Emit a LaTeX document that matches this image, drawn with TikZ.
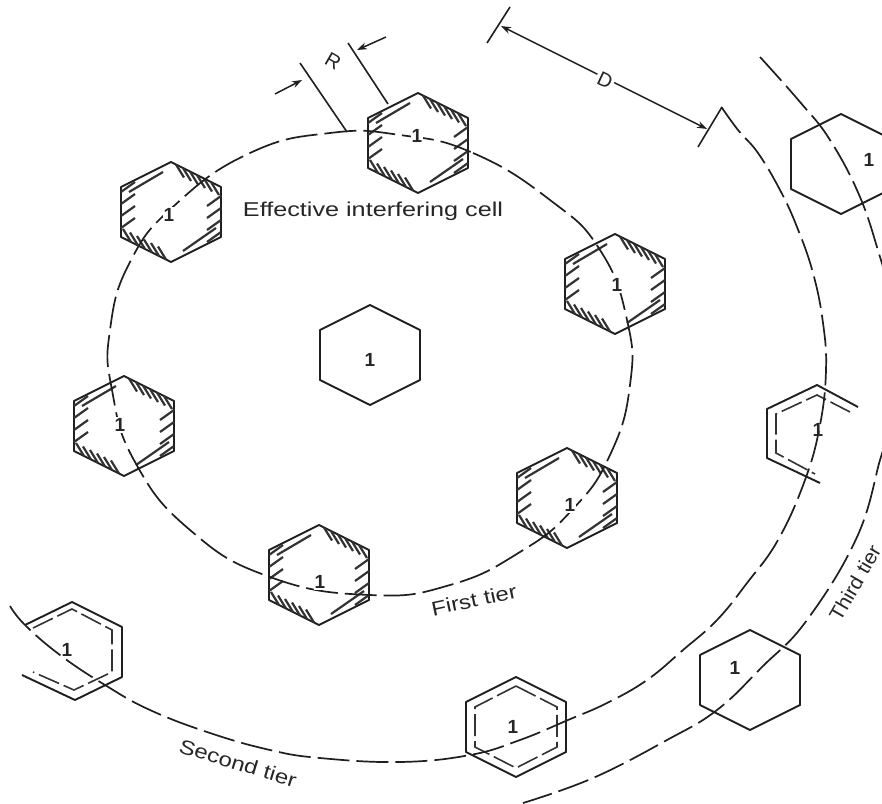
\documentclass[tikz,border=0pt]{standalone}
\usepackage{fontspec}
\setmainfont{Liberation Sans}
\usetikzlibrary{arrows.meta}
\tikzset{
  x=1pt,y=-1pt,
  hexline/.style={line width=1.9pt,draw=black!88,line join=round},
  tier/.style={line width=1.7pt,draw=black!88,dash pattern=on 32pt off 7pt,line cap=butt},
  innerdash/.style={line width=1.6pt,draw=black!80,dash pattern=on 22pt off 5pt},
  hatchline/.style={line width=2.2pt,draw=black!80},
  dimline/.style={line width=1.6pt,draw=black!88},
  dimarrow/.style={line width=1.5pt,draw=black!88,-{Stealth[length=10pt,width=7pt]}},
  num/.style={font=\bfseries\fontsize{19}{19}\selectfont,text=black!85,inner sep=1pt},
  lab/.style={font=\fontsize{20}{20}\selectfont,text=black!85,inner sep=1pt},
}
\newcommand{\hexat}[2]{%
  \draw[hexline] (#1,#2-50)--(#1+50,#2-25)--(#1+50,#2+25)--(#1,#2+50)--(#1-50,#2+25)--(#1-50,#2-25)--cycle;}
\newcommand{\innerhexat}[2]{%
  \draw[innerdash] (#1,#2-41)--(#1+41,#2-20)--(#1+41,#2+20)--(#1,#2+41)--(#1-41,#2+20)--(#1-41,#2-20)--cycle;}
\newcommand{\hatchhexat}[2]{%
  \hexat{#1}{#2}
  \foreach \t in {5,12,19,26,33,40}{
    \draw[hatchline] (#1+\t,#2-50+\t/2)--++(8,13);
    \draw[hatchline] (#1-\t,#2+50-\t/2)--++(-8,-13);
  }
  \foreach \t in {-16,-4,8,20}{
    \draw[hatchline] (#1+50,#2+\t)--++(-14,10);
    \draw[hatchline] (#1-50,#2-\t)--++(14,-10);
  }
  \draw[hatchline] (#1-42,#2-20)--(#1-8,#2-40);
  \draw[hatchline] (#1+45,#2+16)--(#1+12,#2+39);
}
\begin{document}
\begin{tikzpicture}
\useasboundingbox (0,0) rectangle (882,803);
\clip (0,0) rectangle (882,803);
\fill[white] (0,0) rectangle (882,803);

% central and hatched cells
\hexat{370}{355}
\hatchhexat{418}{143}
\hatchhexat{615}{284}
\hatchhexat{567}{498}
\hatchhexat{319}{575}
\hatchhexat{124}{426}
\hatchhexat{171}{212}

% plain outer cells
\hexat{841}{164}
\hexat{750}{680}

% double-outline cells
\hexat{516}{727}
\innerhexat{516}{727}
\draw[hexline] (858,407)--(817,385)--(767,409)--(767,458)--(820,483);
\draw[innerdash] (850,412)--(817,395)--(776,414)--(776,453)--(815,474);
\draw[hexline] (25,625)--(72,602)--(122,627)--(122,677)--(75,700)--(22,675);
\draw[innerdash] (33,628)--(72,609)--(112,630)--(112,672)--(74,690)--(33,672);

% tier curves
\draw[tier] plot[smooth cycle,tension=0.8] coordinates {
 (400,135)(473,153)(550,200)(600,250)(627,320)(630,385)(610,455)(572,510)(520,552)(450,585)(370,595)(270,577)(190,530)(135,462)(112,390)(110,330)(130,262)(175,205)(250,153)(330,133)};
\draw[tier] plot[smooth,tension=0.7] coordinates {
 (10,606)(25,625)(60,655)(105,685)(150,710)(210,733)(270,750)(320,758)(400,762)(470,755)(520,740)(568,720)(607,703)(647,680)(683,650)(717,620)(747,583)(778,540)(805,480)(820,425)(826,370)(823,323)(813,273)(797,227)(780,190)(758,153)(738,130)(720,105)};
\draw[tier] plot[smooth,tension=0.7] coordinates {
 (760,57)(800,102)(830,140)(860,197)(880,257)(885,275)};
\draw[tier] plot[smooth,tension=0.7] coordinates {
 (885,445)(880,460)(857,537)(807,620)(762,667)(717,710)(667,740)(593,778)(523,803)};

% cell numbers
\node[num,fill=white] (c0) at (370,360) {1};
\node[num,fill=white] (c1) at (417,136) {1};
\node[num,fill=white] (c2) at (169,215) {1};
\node[num,fill=white] (c3) at (617,285) {1};
\node[num,fill=white] (c4) at (570,505) {1};
\node[num,fill=white] (c5) at (320,582) {1};
\node[num,fill=white] (c6) at (120,425) {1};
\node[num] (c7) at (869,160) {1};
\node[num] (c8) at (818,430) {1};
\node[num,fill=white] (c9) at (67,650) {1};
\node[num,fill=white] (c10) at (513,727) {1};
\node[num] (c11) at (735,668) {1};

% R dimension
\coordinate (ra) at (347,132); \coordinate (rb) at (300,63);
\coordinate (rc) at (388,104); \coordinate (rd) at (348,43);
\coordinate (re) at (275,94);  \coordinate (rf) at (302,80);
\coordinate (rg) at (386,37);  \coordinate (rh) at (357,50);
\draw[dimline] (ra)--(rb);
\draw[dimline] (rc)--(rd);
\draw[dimarrow] (re)--(rf);
\draw[dimarrow] (rg)--(rh);
\node[lab,rotate=-30] (R) at (333,61) {R};

% D dimension
\coordinate (da) at (510,7);  \coordinate (db) at (487,43);
\coordinate (dc) at (722,107);\coordinate (dd) at (698,147);
\coordinate (de) at (501,26); \coordinate (df) at (707,129);
\draw[dimline] (da)--(db);
\draw[dimline] (dc)--(dd);
\draw[dimarrow,{Stealth[length=10pt,width=7pt]}-{Stealth[length=10pt,width=7pt]}] (de)--(df);
\node[lab,rotate=-25,fill=white,inner sep=2pt] (D) at (605,80) {D};

% labels
\node[lab,xscale=1.26] (eff) at (373,211) {Effective interfering cell};
\node[lab,rotate=12,xscale=1.2] (t1) at (474,600) {First tier};
\node[lab,rotate=-17,xscale=1.2] (t2) at (238,763) {Second tier};
\node[lab,rotate=60,xscale=1.05] (t3) at (855,583) {Third tier};
\end{tikzpicture}
\end{document}
